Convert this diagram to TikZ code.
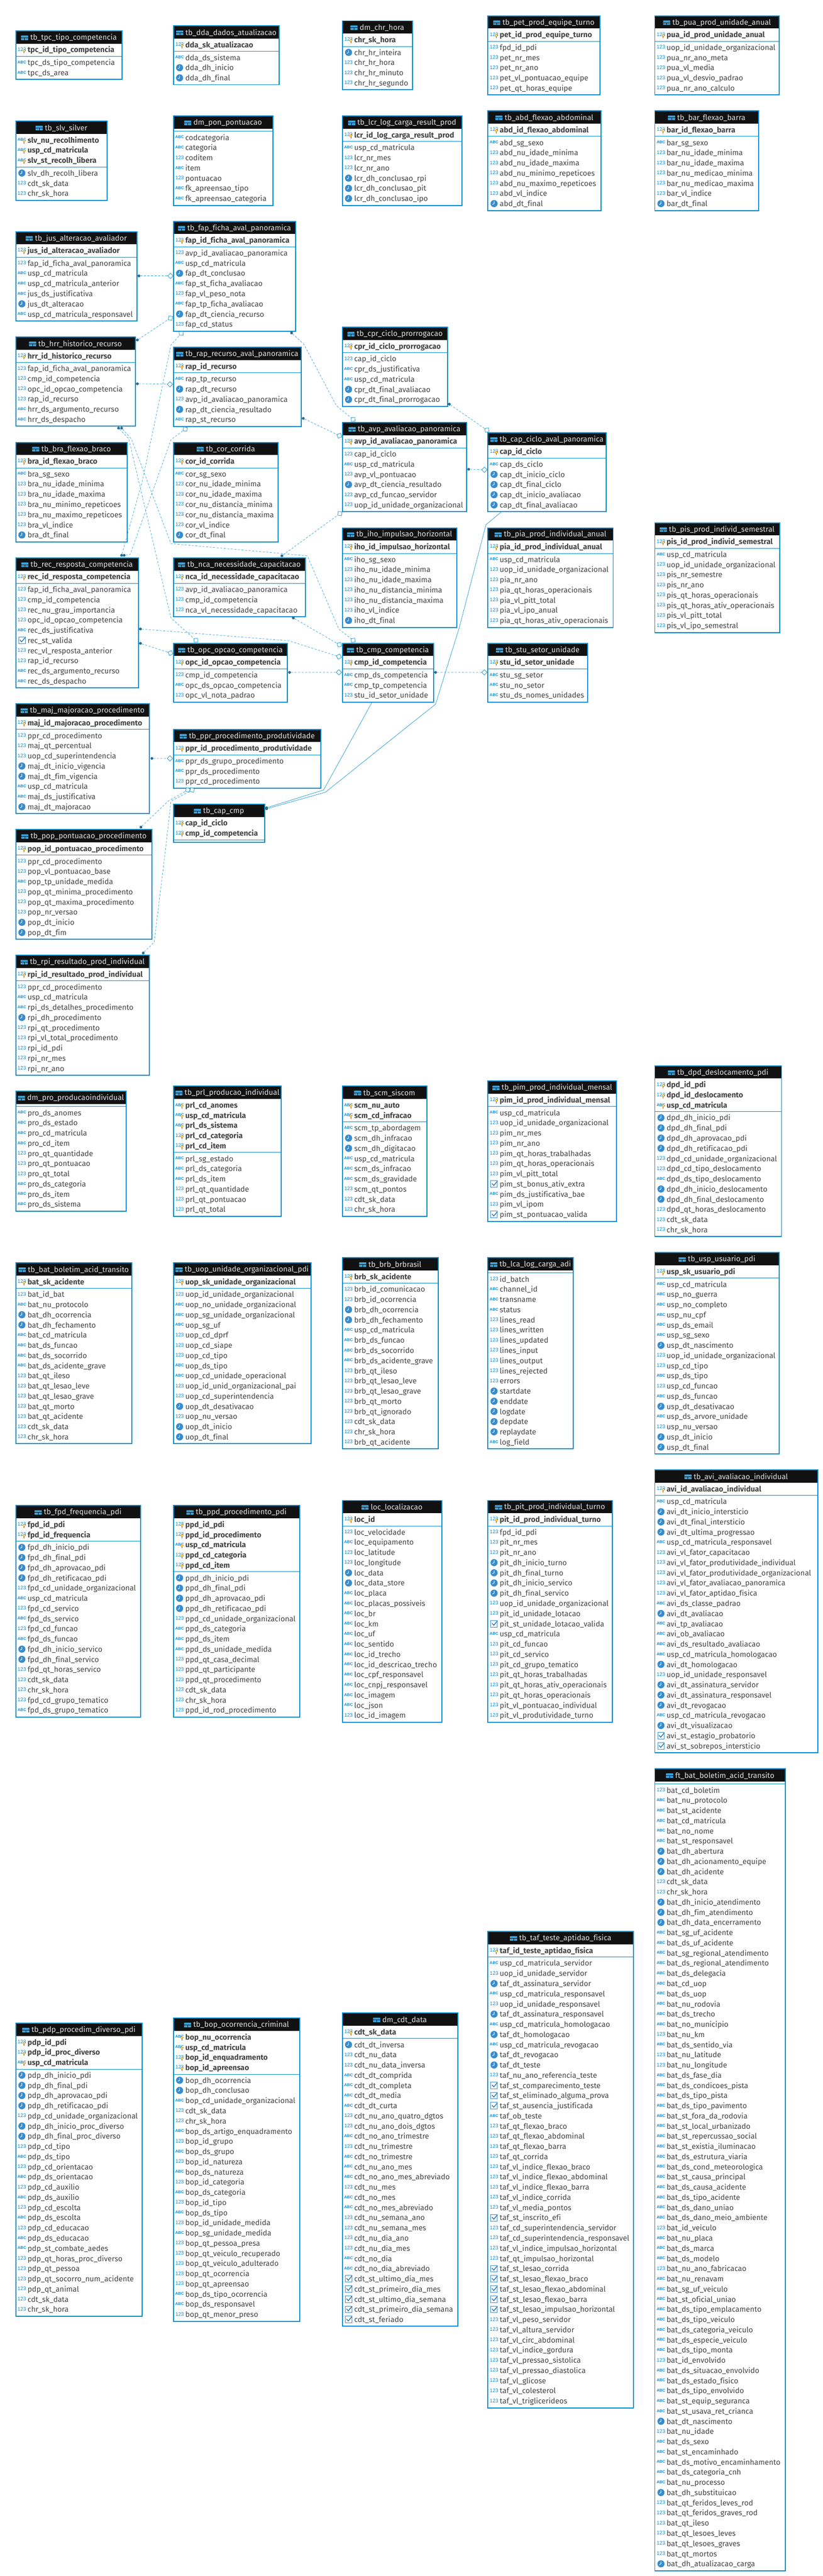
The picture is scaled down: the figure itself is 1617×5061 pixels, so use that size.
\documentclass[tikz,border=0pt]{standalone}
\usepackage{fontspec}
\setmainfont{Fira Sans}[Ligatures=NoCommon]
\newfontfamily\rkicon{Liberation Sans}
\usetikzlibrary{calc}
\definecolor{rkblue}{RGB}{0,140,206}
\definecolor{rkline}{RGB}{40,160,215}
\definecolor{rkdot}{RGB}{45,105,140}
\definecolor{rkhead}{RGB}{17,17,17}
\definecolor{rktext}{RGB}{68,68,68}
\definecolor{rkclock}{RGB}{56,140,205}
\definecolor{rkic}{RGB}{10,140,210}
\tikzset{
  tbox/.style={draw=rkblue,line width=2pt,fill=white,inner sep=0pt,outer sep=0pt,rectangle},
  rowtext/.style={anchor=base west,inner sep=0pt,text=rktext,font=\fontsize{14.8}{16}\selectfont},
  pktext/.style={rowtext,font=\fontsize{14.8}{16}\selectfont\bfseries},
  titletext/.style={anchor=center,inner sep=0pt,text=white!88!black,font=\fontsize{14.8}{16}\selectfont},
  ic123/.style={anchor=center,inner sep=0pt,text=rkic,font=\rkicon\fontsize{10}{10}\selectfont},
  icabc/.style={anchor=center,inner sep=0pt,text=rkic,font=\rkicon\bfseries\fontsize{7.8}{8}\selectfont},
  conn/.style={draw=rkline,line width=.7pt,dash pattern=on 4pt off 3pt},
  solidconn/.style={draw=rkline,line width=.8pt},
  fkdot/.style={circle,fill=rkdot,inner sep=0pt,outer sep=0pt,minimum size=5.5pt},
  pkend/.style={rectangle,draw=rkline,line width=.9pt,fill=white,inner sep=0pt,outer sep=0pt,minimum size=7.5pt},
}
\newcount\rkN
\newcount\rkC
\newcommand\rkIconn[2]{\global\advance\rkC by 1 \node[ic123,name=ic\the\rkC] at (#1,#2-1.5) {123};}
\newcommand\rkIcona[2]{\global\advance\rkC by 1 \node[icabc,name=ic\the\rkC] at (#1,#2-1.5) {ABC};}
\newcommand\rkIconc[2]{\fill[rkclock] (#1,#2-1) circle (7);
  \draw[white,line width=1pt] (#1,#2-5.5) -- (#1,#2-1) -- (#1-3.2,#2+.8);}
\newcommand\rkIconb[2]{\draw[rkclock,line width=.8pt,fill=white] (#1-6.5,#2-7.5) rectangle (#1+6.5,#2+5.5);
  \draw[rkclock!80!black,line width=1.4pt] (#1-4,#2-2) -- (#1-.5,#2+2) -- (#1+6.5,#2-6.5);}
\newcommand\rkKey[2]{\draw[orange!90!black,fill=yellow!50,line width=.7pt] (#1+4.5,#2+.5) circle (2.2);
  \draw[orange!60!black,line width=1pt] (#1+4.5,#2+2.7) -- (#1+4.5,#2+6);}
\newcommand\tbl[7]{%
  \global\rkN=0
  \if\relax\detokenize{#6}\relax\else\foreach \rk/\rs in {#6}{\global\advance\rkN by 1}\fi
  \edef\rkNp{\the\rkN}%
  \global\rkN=0
  \if\relax\detokenize{#7}\relax\else\foreach \rk/\rs in {#7}{\global\advance\rkN by 1}\fi
  \edef\rkNr{\the\rkN}%
  \pgfmathsetmacro\rkSep{#4+50+20*(\rkNp-1)}%
  \pgfmathsetmacro\rkBot{\rkNr>0 ? \rkSep+13+20*(\rkNr-1)+12.5 : \rkSep+5}%
  \pgfmathsetmacro\rkW{#3-#2}%
  \pgfmathsetmacro\rkH{\rkBot-#4}%
  \node[tbox,anchor=north west,minimum width=\rkW pt,minimum height=\rkH pt] (#1) at (#2,#4) {};
  \fill[rkhead] (#2,#4) rectangle (#3,#4+25);
  \draw[rkblue,line width=.8pt] (#2,\rkSep) -- (#3,\rkSep);
  \draw[rkblue,line width=2pt] (#1.north west) rectangle (#1.south east);
  \pgfmathsetmacro\rkCx{(#2+#3)/2+9}%
  \node[titletext] (#1-t) at (\rkCx,#4+13.5) {#5};
  \fill[rkic!80!white,rounded corners=.6pt] ($(#1-t.west)+(-18,-4.5)$) rectangle ($(#1-t.west)+(-4,4.5)$);
  \draw[rkhead,line width=.8pt] ($(#1-t.west)+(-18,0)$) -- ($(#1-t.west)+(-4,0)$);
  \draw[rkhead,line width=.8pt] ($(#1-t.west)+(-11,0)$) -- ($(#1-t.west)+(-11,4.5)$);
  \pgfmathsetmacro\rkIx{#2+12}%
  \pgfmathsetmacro\rkTx{#2+23}%
  \if\relax\detokenize{#6}\relax\else
  \foreach \rk/\rs [count=\ri from 0] in {#6}{%
    \pgfmathsetmacro\ry{#4+38+20*\ri}%
    \csname rkIcon\rk\endcsname{\rkIx}{\ry}%
    \rkKey{\rkIx}{\ry}%
    \node[pktext,name=#1-p\ri] at (\rkTx,\ry+4.5) {\rs};
  }\fi
  \if\relax\detokenize{#7}\relax\else
  \foreach \rk/\rs [count=\ri from 0] in {#7}{%
    \pgfmathsetmacro\ry{\rkSep+13+20*\ri}%
    \csname rkIcon\rk\endcsname{\rkIx}{\ry}%
    \node[rowtext,name=#1-r\ri] at (\rkTx,\ry+4.5) {\rs};
  }\fi
}
\begin{document}
\catcode`\_=12
\begin{tikzpicture}[x=1pt,y=-1pt]
\useasboundingbox (0,0) rectangle (1617,5061);
\fill[white] (0,0) rectangle (1617,5061);
\tbl{tpc}{31}{240}{60.7}{tb_tpc_tipo_competencia}{n/tpc_id_tipo_competencia}{a/tpc_ds_tipo_competencia,a/tpc_ds_area}
\tbl{dda}{341}{549}{51}{tb_dda_dados_atualizacao}{n/dda_sk_atualizacao}{a/dda_ds_sistema,c/dda_dh_inicio,c/dda_dh_final}
\tbl{chr}{673}{810.4}{41}{dm_chr_hora}{n/chr_sk_hora}{c/chr_hr_inteira,n/chr_hr_hora,n/chr_hr_minuto,n/chr_hr_segundo}
\tbl{pet}{959}{1179}{31}{tb_pet_prod_equipe_turno}{n/pet_id_prod_equipe_turno}{n/fpd_id_pdi,n/pet_nr_mes,n/pet_nr_ano,n/pet_vl_pontuacao_equipe,n/pet_qt_horas_equipe}
\tbl{pua}{1287}{1531.6}{31}{tb_pua_prod_unidade_anual}{n/pua_id_prod_unidade_anual}{n/uop_id_unidade_organizacional,n/pua_nr_ano_meta,n/pua_vl_media,n/pua_vl_desvio_padrao,n/pua_nr_ano_calculo}
\tbl{slv}{31}{211}{238}{tb_slv_silver}{a/slv_nu_recolhimento,a/usp_cd_matricula,a/slv_st_recolh_libera}{c/slv_dh_recolh_libera,n/cdt_sk_data,n/chr_sk_hora}
\tbl{pon}{341}{536}{228}{dm_pon_pontuacao}{}{a/codcategoria,a/categoria,n/coditem,a/item,n/pontuacao,a/fk_apreensao_tipo,a/fk_apreensao_categoria}
\tbl{lcr}{673}{908}{228}{tb_lcr_log_carga_result_prod}{n/lcr_id_log_carga_result_prod}{a/usp_cd_matricula,n/lcr_nr_mes,n/lcr_nr_ano,c/lcr_dh_conclusao_rpi,c/lcr_dh_conclusao_pit,c/lcr_dh_conclusao_ipo}
\tbl{abd}{959}{1181}{218}{tb_abd_flexao_abdominal}{n/abd_id_flexao_abdominal}{a/abd_sg_sexo,n/abd_nu_idade_minima,n/abd_nu_idade_maxima,n/abd_nu_minimo_repeticoes,n/abd_nu_maximo_repeticoes,n/abd_vl_indice,c/abd_dt_final}
\tbl{bar}{1287}{1491}{218}{tb_bar_flexao_barra}{n/bar_id_flexao_barra}{a/bar_sg_sexo,n/bar_nu_idade_minima,n/bar_nu_idade_maxima,n/bar_nu_medicao_minima,n/bar_nu_medicao_maxima,n/bar_vl_indice,c/bar_dt_final}
\tbl{jus}{31}{269}{455}{tb_jus_alteracao_avaliador}{n/jus_id_alteracao_avaliador}{n/fap_id_ficha_aval_panoramica,a/usp_cd_matricula,a/usp_cd_matricula_anterior,a/jus_ds_justificativa,c/jus_dt_alteracao,a/usp_cd_matricula_responsavel}
\tbl{fap}{341}{581}{435}{tb_fap_ficha_aval_panoramica}{n/fap_id_ficha_aval_panoramica}{n/avp_id_avaliacao_panoramica,a/usp_cd_matricula,c/fap_dt_conclusao,a/fap_st_ficha_avaliacao,n/fap_vl_peso_nota,a/fap_tp_ficha_avaliacao,c/fap_dt_ciencia_recurso,n/fap_cd_status}
\tbl{hrr}{31}{266}{662}{tb_hrr_historico_recurso}{n/hrr_id_historico_recurso}{n/fap_id_ficha_aval_panoramica,n/cmp_id_competencia,n/opc_id_opcao_competencia,n/rap_id_recurso,a/hrr_ds_argumento_recurso,a/hrr_ds_despacho}
\tbl{rap}{341}{592}{682.4}{tb_rap_recurso_aval_panoramica}{n/rap_id_recurso}{a/rap_tp_recurso,c/rap_dt_recurso,n/avp_id_avaliacao_panoramica,c/rap_dt_ciencia_resultado,a/rap_st_recurso}
\tbl{cpr}{673}{880}{643}{tb_cpr_ciclo_prorrogacao}{n/cpr_id_ciclo_prorrogacao}{n/cap_id_ciclo,a/cpr_ds_justificativa,a/usp_cd_matricula,c/cpr_dt_final_avaliacao,c/cpr_dt_final_prorrogacao}
\tbl{avp}{673}{917}{830}{tb_avp_avaliacao_panoramica}{n/avp_id_avaliacao_panoramica}{n/cap_id_ciclo,a/usp_cd_matricula,n/avp_vl_pontuacao,c/avp_dt_ciencia_resultado,n/avp_cd_funcao_servidor,n/uop_id_unidade_organizacional}
\tbl{cap}{959}{1191}{850}{tb_cap_ciclo_aval_panoramica}{n/cap_id_ciclo}{a/cap_ds_ciclo,c/cap_dt_inicio_ciclo,c/cap_dt_final_ciclo,c/cap_dt_inicio_avaliacao,c/cap_dt_final_avaliacao}
\tbl{bra}{31}{250.5}{869}{tb_bra_flexao_braco}{n/bra_id_flexao_braco}{a/bra_sg_sexo,n/bra_nu_idade_minima,n/bra_nu_idade_maxima,n/bra_nu_minimo_repeticoes,n/bra_nu_maximo_repeticoes,n/bra_vl_indice,c/bra_dt_final}
\tbl{cor}{341}{547}{869}{tb_cor_corrida}{n/cor_id_corrida}{a/cor_sg_sexo,n/cor_nu_idade_minima,n/cor_nu_idade_maxima,n/cor_nu_distancia_minima,n/cor_nu_distancia_maxima,n/cor_vl_indice,c/cor_dt_final}
\tbl{iho}{673}{898}{1037}{tb_iho_impulsao_horizontal}{n/iho_id_impulsao_horizontal}{a/iho_sg_sexo,n/iho_nu_idade_minima,n/iho_nu_idade_maxima,n/iho_nu_distancia_minima,n/iho_nu_distancia_maxima,n/iho_vl_indice,c/iho_dt_final}
\tbl{pia}{959}{1205}{1037}{tb_pia_prod_individual_anual}{n/pia_id_prod_individual_anual}{a/usp_cd_matricula,n/uop_id_unidade_organizacional,n/pia_nr_ano,n/pia_qt_horas_operacionais,n/pia_vl_pitt_total,n/pia_vl_ipo_anual,n/pia_qt_horas_ativ_operacionais}
\tbl{pis}{1287}{1532}{1027}{tb_pis_prod_individ_semestral}{n/pis_id_prod_individ_semestral}{a/usp_cd_matricula,n/uop_id_unidade_organizacional,n/pis_nr_semestre,n/pis_nr_ano,n/pis_qt_horas_operacionais,n/pis_qt_horas_ativ_operacionais,n/pis_vl_pitt_total,n/pis_vl_ipo_semestral}
\tbl{rec}{31}{272}{1096}{tb_rec_resposta_competencia}{n/rec_id_resposta_competencia}{n/fap_id_ficha_aval_panoramica,n/cmp_id_competencia,n/rec_nu_grau_importancia,n/opc_id_opcao_competencia,a/rec_ds_justificativa,b/rec_st_valida,n/rec_vl_resposta_anterior,n/rap_id_recurso,a/rec_ds_argumento_recurso,a/rec_ds_despacho}
\tbl{nca}{341}{600}{1096}{tb_nca_necessidade_capacitacao}{n/nca_id_necessidade_capacitacao}{n/avp_id_avaliacao_panoramica,n/cmp_id_competencia,n/nca_vl_necessidade_capacitacao}
\tbl{opc}{341}{565}{1264}{tb_opc_opcao_competencia}{n/opc_id_opcao_competencia}{n/cmp_id_competencia,a/opc_ds_opcao_competencia,n/opc_vl_nota_padrao}
\tbl{cmp}{673}{852}{1264}{tb_cmp_competencia}{n/cmp_id_competencia}{a/cmp_ds_competencia,a/cmp_tp_competencia,n/stu_id_setor_unidade}
\tbl{stu}{959}{1155}{1264}{tb_stu_setor_unidade}{n/stu_id_setor_unidade}{a/stu_sg_setor,a/stu_no_setor,a/stu_ds_nomes_unidades}
\tbl{maj}{31}{294}{1383}{tb_maj_majoracao_procedimento}{n/maj_id_majoracao_procedimento}{n/ppr_cd_procedimento,n/maj_qt_percentual,n/uop_cd_superintendencia,c/maj_dt_inicio_vigencia,c/maj_dt_fim_vigencia,a/usp_cd_matricula,a/maj_ds_justificativa,c/maj_dt_majoracao}
\tbl{ppr}{341}{631}{1433}{tb_ppr_procedimento_produtividade}{n/ppr_id_procedimento_produtividade}{a/ppr_ds_grupo_procedimento,a/ppr_ds_procedimento,n/ppr_cd_procedimento}
\tbl{capcmp}{341}{520}{1580}{tb_cap_cmp}{n/cap_id_ciclo,n/cmp_id_competencia}{}
\tbl{pop}{31}{299}{1630}{tb_pop_pontuacao_procedimento}{n/pop_id_pontuacao_procedimento}{n/ppr_cd_procedimento,n/pop_vl_pontuacao_base,a/pop_tp_unidade_medida,n/pop_qt_minima_procedimento,n/pop_qt_maxima_procedimento,n/pop_nr_versao,c/pop_dt_inicio,c/pop_dt_fim}
\tbl{rpi}{31}{294}{1877}{tb_rpi_resultado_prod_individual}{n/rpi_id_resultado_prod_individual}{n/ppr_cd_procedimento,a/usp_cd_matricula,a/rpi_ds_detalhes_procedimento,c/rpi_dh_procedimento,n/rpi_qt_procedimento,n/rpi_vl_total_procedimento,n/rpi_id_pdi,n/rpi_nr_mes,n/rpi_nr_ano}
\tbl{pro}{31}{248}{2144}{dm_pro_producaoindividual}{}{a/pro_ds_anomes,a/pro_ds_estado,a/pro_cd_matricula,a/pro_cd_item,n/pro_qt_quantidade,n/pro_qt_pontuacao,n/pro_qt_total,a/pro_ds_categoria,a/pro_ds_item,a/pro_ds_sistema}
\tbl{prl}{341}{553}{2134}{tb_prl_producao_individual}{a/prl_cd_anomes,a/usp_cd_matricula,a/prl_ds_sistema,n/prl_cd_categoria,n/prl_cd_item}{a/prl_sg_estado,a/prl_ds_categoria,a/prl_ds_item,n/prl_qt_quantidade,n/prl_qt_pontuacao,n/prl_qt_total}
\tbl{scm}{673}{839}{2134}{tb_scm_siscom}{a/scm_nu_auto,a/scm_cd_infracao}{a/scm_tp_abordagem,c/scm_dh_infracao,c/scm_dh_digitacao,a/usp_cd_matricula,a/scm_ds_infracao,a/scm_ds_gravidade,n/scm_qt_pontos,n/cdt_sk_data,n/chr_sk_hora}
\tbl{pim}{959}{1212}{2124}{tb_pim_prod_individual_mensal}{n/pim_id_prod_individual_mensal}{a/usp_cd_matricula,n/uop_id_unidade_organizacional,n/pim_nr_mes,n/pim_nr_ano,n/pim_qt_horas_trabalhadas,n/pim_qt_horas_operacionais,n/pim_vl_pitt_total,b/pim_st_bonus_ativ_extra,a/pim_ds_justificativa_bae,n/pim_vl_ipom,b/pim_st_pontuacao_valida}
\tbl{dpd}{1287}{1536}{2094}{tb_dpd_deslocamento_pdi}{n/dpd_id_pdi,n/dpd_id_deslocamento,a/usp_cd_matricula}{c/dpd_dh_inicio_pdi,c/dpd_dh_final_pdi,c/dpd_dh_aprovacao_pdi,c/dpd_dh_retificacao_pdi,n/dpd_cd_unidade_organizacional,n/dpd_cd_tipo_deslocamento,a/dpd_ds_tipo_deslocamento,c/dpd_dh_inicio_deslocamento,c/dpd_dh_final_deslocamento,n/dpd_qt_horas_deslocamento,n/cdt_sk_data,n/chr_sk_hora}
\tbl{batb}{31}{259}{2481}{tb_bat_boletim_acid_transito}{n/bat_sk_acidente}{n/bat_id_bat,a/bat_nu_protocolo,c/bat_dh_ocorrencia,c/bat_dh_fechamento,a/bat_cd_matricula,a/bat_ds_funcao,a/bat_ds_socorrido,a/bat_ds_acidente_grave,n/bat_qt_ileso,n/bat_qt_lesao_leve,n/bat_qt_lesao_grave,n/bat_qt_morto,n/bat_qt_acidente,n/cdt_sk_data,n/chr_sk_hora}
\tbl{uop}{341}{611}{2481}{tb_uop_unidade_organizacional_pdi}{n/uop_sk_unidade_organizacional}{n/uop_id_unidade_organizacional,a/uop_no_unidade_organizacional,a/uop_sg_unidade_organizacional,a/uop_sg_uf,n/uop_cd_dprf,n/uop_cd_siape,n/uop_cd_tipo,a/uop_ds_tipo,a/uop_cd_unidade_operacional,n/uop_id_unid_organizacional_pai,n/uop_cd_superintendencia,c/uop_dt_desativacao,n/uop_nu_versao,c/uop_dt_inicio,c/uop_dt_final}
\tbl{brb}{673}{861}{2471}{tb_brb_brbrasil}{n/brb_sk_acidente}{n/brb_id_comunicacao,n/brb_id_ocorrencia,c/brb_dh_ocorrencia,c/brb_dh_fechamento,a/usp_cd_matricula,a/brb_ds_funcao,a/brb_ds_socorrido,a/brb_ds_acidente_grave,n/brb_qt_ileso,n/brb_qt_lesao_leve,n/brb_qt_lesao_grave,n/brb_qt_morto,n/brb_qt_ignorado,n/cdt_sk_data,n/chr_sk_hora,n/brb_qt_acidente}
\tbl{lca}{959}{1127}{2471}{tb_lca_log_carga_adi}{}{n/id_batch,a/channel_id,a/transname,a/status,n/lines_read,n/lines_written,n/lines_updated,n/lines_input,n/lines_output,n/lines_rejected,n/errors,c/startdate,c/enddate,c/logdate,c/depdate,c/replaydate,a/log_field}
\tbl{usp}{1287}{1531.6}{2461}{tb_usp_usuario_pdi}{n/usp_sk_usuario_pdi}{a/usp_cd_matricula,a/usp_no_guerra,a/usp_no_completo,a/usp_nu_cpf,a/usp_ds_email,a/usp_sg_sexo,c/usp_dt_nascimento,n/uop_id_unidade_organizacional,n/usp_cd_tipo,a/usp_ds_tipo,n/usp_cd_funcao,a/usp_ds_funcao,c/usp_dt_desativacao,a/usp_ds_arvore_unidade,n/usp_nu_versao,c/usp_dt_inicio,c/usp_dt_final}
\tbl{fpd}{31}{276}{2958}{tb_fpd_frequencia_pdi}{n/fpd_id_pdi,n/fpd_id_frequencia}{c/fpd_dh_inicio_pdi,c/fpd_dh_final_pdi,c/fpd_dh_aprovacao_pdi,c/fpd_dh_retificacao_pdi,n/fpd_cd_unidade_organizacional,a/usp_cd_matricula,n/fpd_cd_servico,a/fpd_ds_servico,n/fpd_cd_funcao,a/fpd_ds_funcao,c/fpd_dh_inicio_servico,c/fpd_dh_final_servico,n/fpd_qt_horas_servico,n/cdt_sk_data,n/chr_sk_hora,n/fpd_cd_grupo_tematico,a/fpd_ds_grupo_tematico}
\tbl{ppd}{341}{589}{2958}{tb_ppd_procedimento_pdi}{n/ppd_id_pdi,n/ppd_id_procedimento,a/usp_cd_matricula,n/ppd_cd_categoria,n/ppd_cd_item}{c/ppd_dh_inicio_pdi,c/ppd_dh_final_pdi,c/ppd_dh_aprovacao_pdi,c/ppd_dh_retificacao_pdi,n/ppd_cd_unidade_organizacional,a/ppd_ds_categoria,a/ppd_ds_item,a/ppd_ds_unidade_medida,n/ppd_qt_casa_decimal,n/ppd_qt_participante,n/ppd_qt_procedimento,n/cdt_sk_data,n/chr_sk_hora,n/ppd_id_rod_procedimento}
\tbl{loc}{673}{868}{2948}{loc_localizacao}{n/loc_id}{n/loc_velocidade,a/loc_equipamento,n/loc_latitude,n/loc_longitude,c/loc_data,c/loc_data_store,a/loc_placa,a/loc_placas_possiveis,a/loc_br,a/loc_km,a/loc_uf,a/loc_sentido,a/loc_id_trecho,a/loc_id_descricao_trecho,a/loc_cpf_responsavel,a/loc_cnpj_responsavel,a/loc_imagem,a/loc_json,n/loc_id_imagem}
\tbl{pit}{959}{1203}{2948}{tb_pit_prod_individual_turno}{n/pit_id_prod_individual_turno}{n/fpd_id_pdi,n/pit_nr_mes,n/pit_nr_ano,c/pit_dh_inicio_turno,c/pit_dh_final_turno,c/pit_dh_inicio_servico,c/pit_dh_final_servico,n/uop_id_unidade_organizacional,n/pit_id_unidade_lotacao,b/pit_st_unidade_lotacao_valida,a/usp_cd_matricula,n/pit_cd_funcao,n/pit_cd_servico,n/pit_cd_grupo_tematico,n/pit_qt_horas_trabalhadas,n/pit_qt_horas_ativ_operacionais,n/pit_qt_horas_operacionais,n/pit_vl_pontuacao_individual,n/pit_vl_produtividade_turno}
\tbl{avi}{1287}{1607}{2888}{tb_avi_avaliacao_individual}{n/avi_id_avaliacao_individual}{a/usp_cd_matricula,c/avi_dt_inicio_intersticio,c/avi_dt_final_intersticio,c/avi_dt_ultima_progressao,a/usp_cd_matricula_responsavel,n/avi_vl_fator_capacitacao,n/avi_vl_fator_produtividade_individual,n/avi_vl_fator_produtividade_organizacional,n/avi_vl_fator_avaliacao_panoramica,n/avi_vl_fator_aptidao_fisica,a/avi_ds_classe_padrao,c/avi_dt_avaliacao,a/avi_tp_avaliacao,a/avi_ob_avaliacao,a/avi_ds_resultado_avaliacao,a/usp_cd_matricula_homologacao,c/avi_dt_homologacao,n/uop_id_unidade_responsavel,c/avi_dt_assinatura_servidor,c/avi_dt_assinatura_responsavel,c/avi_dt_revogacao,a/usp_cd_matricula_revogacao,c/avi_dt_visualizacao,b/avi_st_estagio_probatorio,b/avi_st_sobrepos_intersticio}
\tbl{ftbat}{1287}{1544}{3475}{ft_bat_boletim_acid_transito}{}{n/bat_cd_boletim,a/bat_nu_protocolo,a/bat_st_acidente,a/bat_cd_matricula,a/bat_no_nome,a/bat_st_responsavel,c/bat_dh_abertura,c/bat_dh_acionamento_equipe,c/bat_dh_acidente,n/cdt_sk_data,n/chr_sk_hora,c/bat_dh_inicio_atendimento,c/bat_dh_fim_atendimento,c/bat_dh_data_encerramento,a/bat_sg_uf_acidente,a/bat_ds_uf_acidente,a/bat_sg_regional_atendimento,a/bat_ds_regional_atendimento,a/bat_ds_delegacia,a/bat_cd_uop,a/bat_ds_uop,a/bat_nu_rodovia,a/bat_ds_trecho,a/bat_no_municipio,n/bat_nu_km,a/bat_ds_sentido_via,n/bat_nu_latitude,n/bat_nu_longitude,a/bat_ds_fase_dia,a/bat_ds_condicoes_pista,a/bat_ds_tipo_pista,a/bat_ds_tipo_pavimento,a/bat_st_fora_da_rodovia,a/bat_st_local_urbanizado,a/bat_st_repercussao_social,a/bat_st_existia_iluminacao,a/bat_ds_estrutura_viaria,a/bat_ds_cond_meteorologica,a/bat_st_causa_principal,a/bat_ds_causa_acidente,a/bat_ds_tipo_acidente,a/bat_ds_dano_uniao,a/bat_ds_dano_meio_ambiente,n/bat_id_veiculo,a/bat_nu_placa,a/bat_ds_marca,a/bat_ds_modelo,n/bat_nu_ano_fabricacao,a/bat_nu_renavam,a/bat_sg_uf_veiculo,a/bat_st_oficial_uniao,a/bat_ds_tipo_emplacamento,a/bat_ds_tipo_veiculo,a/bat_ds_categoria_veiculo,a/bat_ds_especie_veiculo,a/bat_ds_tipo_monta,n/bat_id_envolvido,a/bat_ds_situacao_envolvido,a/bat_ds_estado_fisico,a/bat_ds_tipo_envolvido,a/bat_st_equip_seguranca,a/bat_st_usava_ret_crianca,c/bat_dt_nascimento,n/bat_nu_idade,a/bat_ds_sexo,a/bat_st_encaminhado,a/bat_ds_motivo_encaminhamento,a/bat_ds_categoria_cnh,a/bat_nu_processo,c/bat_dh_substituicao,n/bat_qt_feridos_leves_rod,n/bat_qt_feridos_graves_rod,n/bat_qt_ileso,n/bat_qt_lesoes_leves,n/bat_qt_lesoes_graves,n/bat_qt_mortos,c/bat_dh_atualizacao_carga}
\tbl{taf}{959}{1245}{3795}{tb_taf_teste_aptidao_fisica}{n/taf_id_teste_aptidao_fisica}{a/usp_cd_matricula_servidor,n/uop_id_unidade_servidor,c/taf_dt_assinatura_servidor,a/usp_cd_matricula_responsavel,n/uop_id_unidade_responsavel,c/taf_dt_assinatura_responsavel,a/usp_cd_matricula_homologacao,c/taf_dt_homologacao,a/usp_cd_matricula_revogacao,c/taf_dt_revogacao,c/taf_dt_teste,n/taf_nu_ano_referencia_teste,b/taf_st_comparecimento_teste,b/taf_st_eliminado_alguma_prova,b/taf_st_ausencia_justificada,a/taf_ob_teste,n/taf_qt_flexao_braco,n/taf_qt_flexao_abdominal,n/taf_qt_flexao_barra,n/taf_qt_corrida,n/taf_vl_indice_flexao_braco,n/taf_vl_indice_flexao_abdominal,n/taf_vl_indice_flexao_barra,n/taf_vl_indice_corrida,n/taf_vl_media_pontos,b/taf_st_inscrito_efi,n/taf_cd_superintendencia_servidor,n/taf_cd_superintendencia_responsavel,n/taf_vl_indice_impulsao_horizontal,n/taf_qt_impulsao_horizontal,b/taf_st_lesao_corrida,b/taf_st_lesao_flexao_braco,b/taf_st_lesao_flexao_abdominal,b/taf_st_lesao_flexao_barra,b/taf_st_lesao_impulsao_horizontal,n/taf_vl_peso_servidor,n/taf_vl_altura_servidor,n/taf_vl_circ_abdominal,n/taf_vl_indice_gordura,n/taf_vl_pressao_sistolica,n/taf_vl_pressao_diastolica,n/taf_vl_glicose,n/taf_vl_colesterol,n/taf_vl_triglicerideos}
\tbl{pdp}{31}{279.5}{3975}{tb_pdp_procedim_diverso_pdi}{n/pdp_id_pdi,n/pdp_id_proc_diverso,a/usp_cd_matricula}{c/pdp_dh_inicio_pdi,c/pdp_dh_final_pdi,c/pdp_dh_aprovacao_pdi,c/pdp_dh_retificacao_pdi,n/pdp_cd_unidade_organizacional,c/pdp_dh_inicio_proc_diverso,c/pdp_dh_final_proc_diverso,n/pdp_cd_tipo,a/pdp_ds_tipo,n/pdp_cd_orientacao,a/pdp_ds_orientacao,n/pdp_cd_auxilio,a/pdp_ds_auxilio,n/pdp_cd_escolta,a/pdp_ds_escolta,n/pdp_cd_educacao,a/pdp_ds_educacao,a/pdp_st_combate_aedes,n/pdp_qt_horas_proc_diverso,n/pdp_qt_pessoa,n/pdp_qt_socorro_num_acidente,n/pdp_qt_animal,n/cdt_sk_data,n/chr_sk_hora}
\tbl{bop}{341}{589}{3965}{tb_bop_ocorrencia_criminal}{a/bop_nu_ocorrencia,a/usp_cd_matricula,n/bop_id_enquadramento,n/bop_id_apreensao}{c/bop_dh_ocorrencia,c/bop_dh_conclusao,a/bop_cd_unidade_organizacional,n/cdt_sk_data,n/chr_sk_hora,a/bop_ds_artigo_enquadramento,n/bop_id_grupo,a/bop_ds_grupo,n/bop_id_natureza,a/bop_ds_natureza,n/bop_id_categoria,a/bop_ds_categoria,n/bop_id_tipo,a/bop_ds_tipo,n/bop_id_unidade_medida,a/bop_sg_unidade_medida,n/bop_qt_pessoa_presa,n/bop_qt_veiculo_recuperado,n/bop_qt_veiculo_adulterado,n/bop_qt_ocorrencia,n/bop_qt_apreensao,a/bop_ds_tipo_ocorrencia,a/bop_ds_responsavel,n/bop_qt_menor_preso}
\tbl{cdt}{673}{899.5}{3955}{dm_cdt_data}{n/cdt_sk_data}{c/cdt_dt_inversa,n/cdt_nu_data,n/cdt_nu_data_inversa,a/cdt_dt_comprida,a/cdt_dt_completa,a/cdt_dt_media,a/cdt_dt_curta,n/cdt_nu_ano_quatro_dgtos,n/cdt_nu_ano_dois_dgtos,a/cdt_no_ano_trimestre,n/cdt_nu_trimestre,a/cdt_no_trimestre,a/cdt_nu_ano_mes,a/cdt_no_ano_mes_abreviado,n/cdt_nu_mes,a/cdt_no_mes,a/cdt_no_mes_abreviado,n/cdt_nu_semana_ano,n/cdt_nu_semana_mes,n/cdt_nu_dia_ano,n/cdt_nu_dia_mes,a/cdt_no_dia,a/cdt_no_dia_abreviado,b/cdt_st_ultimo_dia_mes,b/cdt_st_primeiro_dia_mes,b/cdt_st_ultimo_dia_semana,b/cdt_st_primeiro_dia_semana,b/cdt_st_feriado}
% connector ends
\node[fkdot] (d1) at (273,542) {}; \node[pkend,rotate=45] (m1) at (335,542) {};
\node[fkdot] (d2) at (270,668) {}; \node[pkend,rotate=-11.5] (m2) at (335,625) {};
\node[fkdot] (d3) at (270,754) {}; \node[pkend,rotate=45] (m3) at (334,755) {};
\node[fkdot] (d4) at (573,654) {}; \node[pkend,rotate=6] (m4) at (694,824) {};
\node[fkdot] (d5) at (596,822) {}; \node[pkend,rotate=19.4] (m5) at (667,856) {};
\node[fkdot] (d6) at (239,1091) {}; \node[pkend,rotate=4] (m6) at (356,655) {};
\node[fkdot] (d7) at (244,1091) {}; \node[pkend,rotate=-8] (m7) at (364,843) {};
\node[fkdot] (d8) at (239,841) {}; \node[pkend,rotate=7] (m8) at (694,1258) {};
\node[fkdot] (d9) at (233,841) {}; \node[pkend,rotate=3] (m9) at (385,1258) {};
\node[fkdot] (d10) at (554,1092) {}; \node[pkend,rotate=-9] (m10) at (668,1009) {};
\node[fkdot] (d11) at (576.5,1214) {}; \node[pkend,rotate=15] (m11) at (667,1266.6) {};
\node[fkdot] (d12) at (276,1235.7) {}; \node[pkend,rotate=27.5] (m12) at (666,1290) {};
\node[fkdot] (d13) at (276,1264) {}; \node[pkend,rotate=27] (m13) at (335,1283) {};
\node[fkdot] (d14) at (569,1321) {}; \node[pkend,rotate=45] (m14) at (666,1321) {};
\node[fkdot] (d15) at (856,1321) {}; \node[pkend,rotate=45] (m15) at (952,1321) {};
\node[fkdot] (d16) at (921,922) {}; \node[pkend,rotate=45] (m16) at (952,923) {};
\node[fkdot] (d17) at (883,794) {}; \node[pkend,rotate=11] (m17) at (957,845) {};
\node[fkdot] (d18) at (298.5,1490) {}; \node[pkend,rotate=45] (m18) at (334,1490) {};
\node[fkdot] (d19) at (277,1625) {}; \node[pkend,rotate=-16] (m19) at (369,1552) {};
\node[fkdot] (d20) at (281.5,1872.4) {}; \node[pkend,rotate=-17] (m20) at (377.6,1552) {};
\node[fkdot] (d21) at (524,1587) {}; \coordinate (m21) at (731,1380);
\node[fkdot] (d22) at (524,1589) {}; \coordinate (m22) at (985,1006);
% connectors
\draw[conn] (d1) -- (m1);
\draw[conn] (d2) -- (m2);
\draw[conn] (d3) -- (m3);
\draw[conn] (d4) -- (597,676) -- (661,797) -- (m4);
\draw[conn] (d5) -- (m5);
\draw[conn] (d6) -- (279,948) -- (302,840) -- (336,678) -- (m6);
\draw[conn] (d7) -- (256,1089) -- (336,864) -- (m7);
\draw[conn] (d8) -- (258,862) -- (336,1068) -- (604,1092) -- (666,1236) -- (m8);
\draw[conn] (d9) -- (253,862) -- (336,1214) -- (m9);
\draw[conn] (d10) -- (m10);
\draw[conn] (d11) -- (m11);
\draw[conn] (d12) -- (568,1259) -- (m12);
\draw[conn] (d13) -- (m13);
\draw[conn] (d14) -- (m14);
\draw[conn] (d15) -- (m15);
\draw[conn] (d16) -- (m16);
\draw[conn] (d17) -- (m17);
\draw[conn] (d18) -- (m18);
\draw[conn] (d19) -- (330.6,1574) -- (m19);
\draw[conn] (d20) -- (303,1851) -- (324,1680) -- (336,1574) -- (m20);
\draw[solidconn] (d21) -- (636,1552) -- (m21);
\draw[solidconn] (d22) -- (639.5,1556.5) -- (800,1428) -- (856,1383.6) -- (902.7,1233) -- (955,1031) -- (m22);
\end{tikzpicture}
\end{document}
